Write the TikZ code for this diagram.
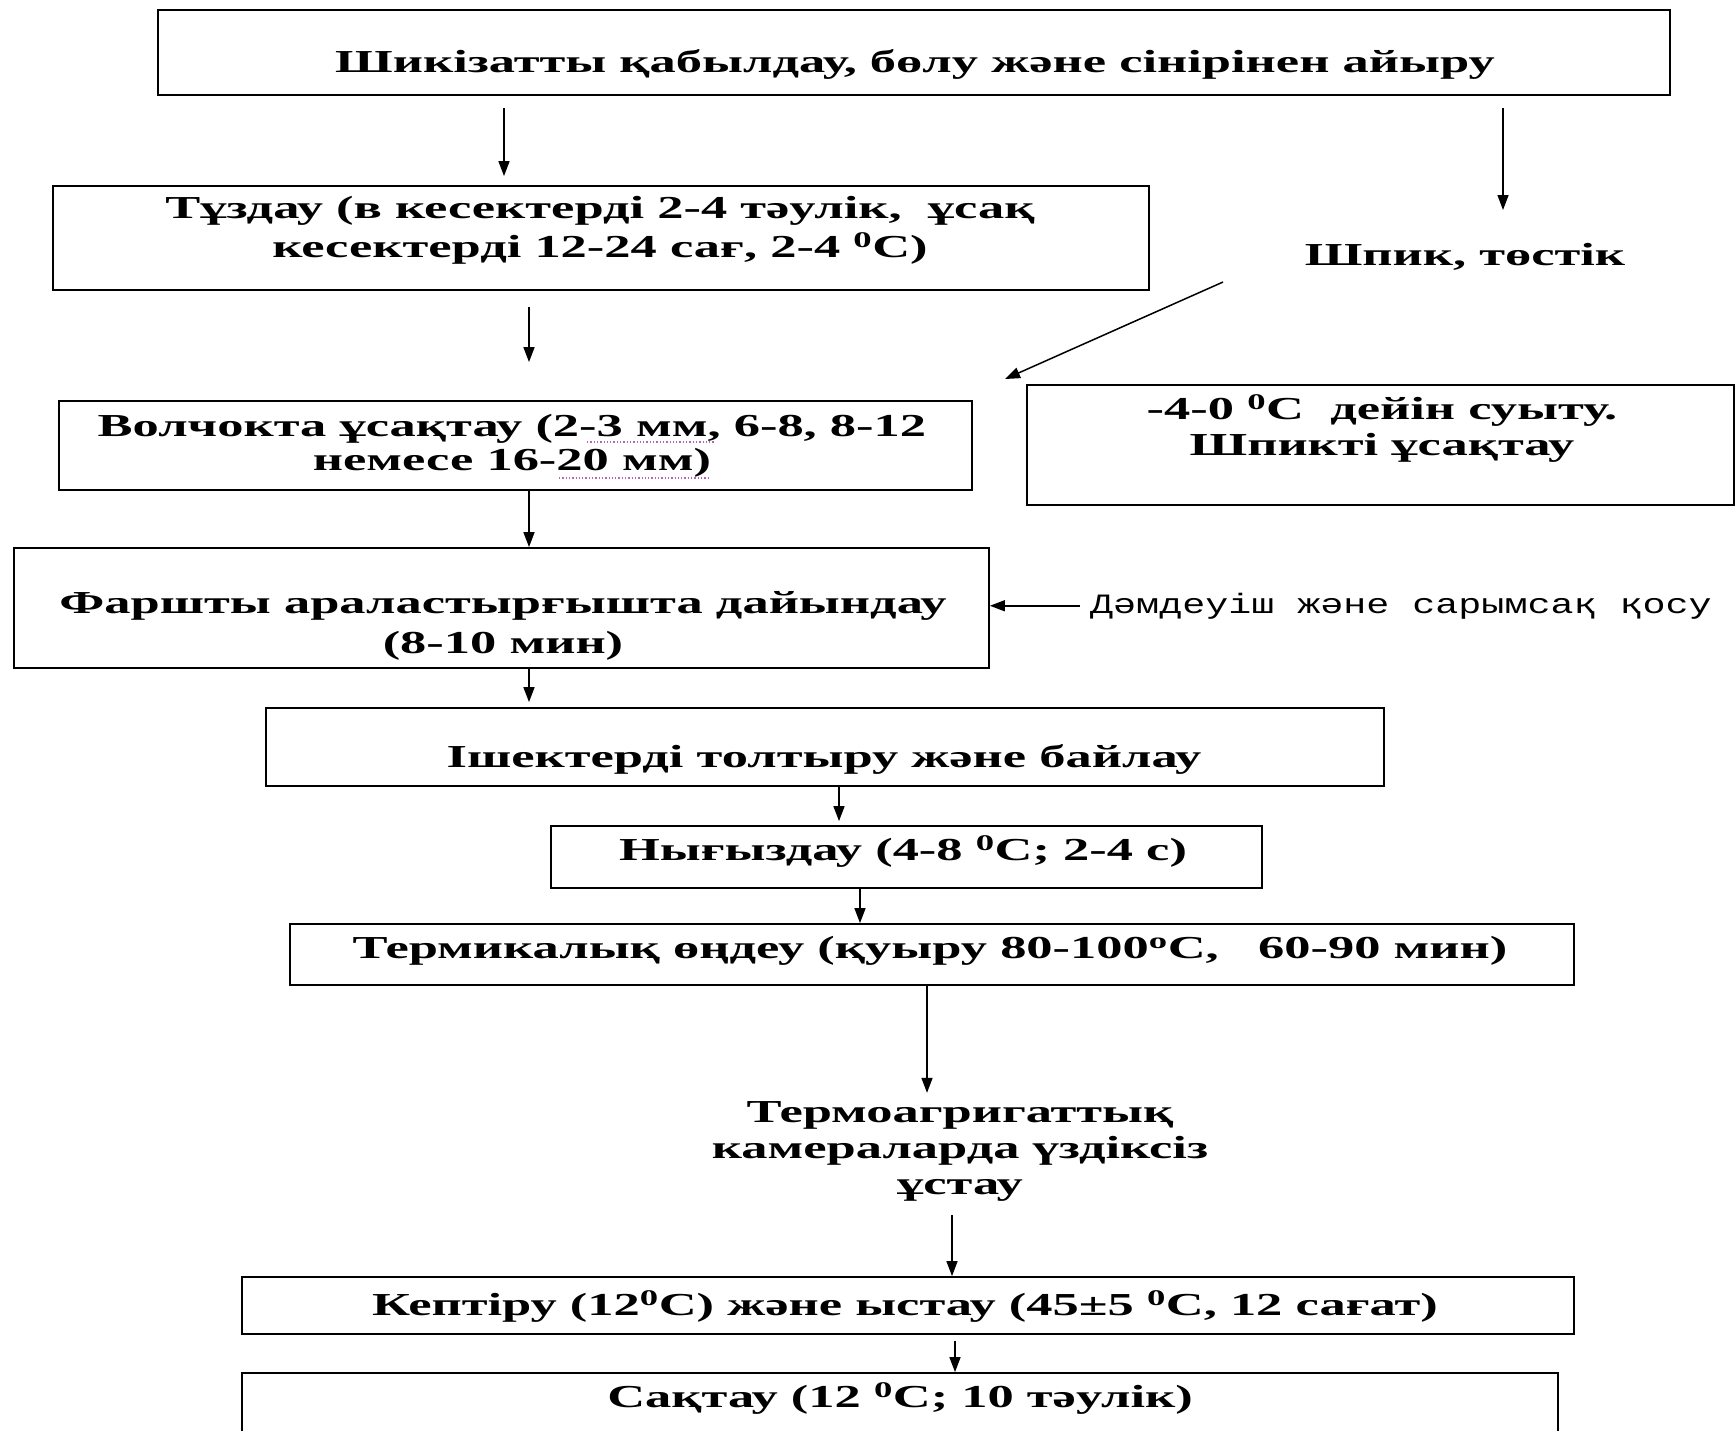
\documentclass[tikz,border=0pt]{standalone}
\usepackage{fontspec}
\setmainfont{Liberation Serif}[FakeStretch=1.64]
\newfontfamily\monofnt{Liberation Mono}[FakeStretch=1.37]
\usetikzlibrary{arrows.meta,calc}
\begin{document}
\begin{tikzpicture}[x=1pt,y=-1pt,
  box/.style={draw, line width=1.8pt, inner sep=0pt},
  txt/.style={font=\bfseries\fontsize{32}{33}\selectfont, align=center, inner sep=0pt, anchor=base},
  arr/.style={-{Triangle[length=15pt,width=11pt]}, line width=1.5pt},
  smart/.style={dotted, draw=violet!60, line width=1.3pt}]
\useasboundingbox (0,0) rectangle (1736,1430);
\clip (0,0) rectangle (1736,1430);
\fill[white] (0,0) rectangle (1736,1430);

% boxes
\node[box, minimum width=1512pt, minimum height=85pt] (b1) at (914,52.5) {};
\node[box, minimum width=1096pt, minimum height=104pt] (b2) at (601,238) {};
\node[box, minimum width=913pt, minimum height=89pt] (b3) at (515.5,445.5) {};
\node[box, minimum width=707pt, minimum height=120pt] (bR) at (1380.5,445) {};
\node[box, minimum width=975pt, minimum height=120pt] (b4) at (501.5,608) {};
\node[box, minimum width=1118pt, minimum height=78pt] (b5) at (825,747) {};
\node[box, minimum width=711pt, minimum height=62pt] (b6) at (906.5,857) {};
\node[box, minimum width=1284pt, minimum height=61pt] (b7) at (932,954.5) {};
\node[box, minimum width=1332pt, minimum height=57pt] (b8) at (908,1305.5) {};
\node[box, minimum width=1316pt, minimum height=77pt] (b9) at (900,1411.5) {};

% texts (multi-line nodes: base = baseline of the last line)
\node[txt] (t1) at (915,72) {Шикізатты қабылдау, бөлу және сінірінен айыру};
\node[txt, font=\bfseries\fontsize{32}{39}\selectfont] (t2) at (600,257) {Тұздау (в кесектерді 2-4 тәулік,\ \ ұсақ\\кесектерді 12-24 сағ, 2-4 \textsuperscript{0}C)};
\node[txt] (shpik) at (1465,265) {Шпик, төстік};
\node[txt, font=\bfseries\fontsize{32}{34}\selectfont] (t3) at (512,470) {Волчокта ұсақтау (2-3 мм, 6-8, 8-12\\немесе 16-20 мм)};
\node[txt, font=\bfseries\fontsize{32}{36}\selectfont] (tR) at (1382,455) {-4-0 \textsuperscript{0}C\ \ дейін суыту.\\Шпикті ұсақтау};
\node[txt, font=\bfseries\fontsize{32}{40}\selectfont] (t4) at (503,653) {Фаршты араластырғышта дайындау\\(8-10 мин)};
\node[inner sep=0pt, anchor=base west, font=\monofnt\fontsize{28}{30}\selectfont] (mono) at (1090,613) {Дәмдеуіш және сарымсақ қосу};
\node[txt] (t5) at (824,767) {Ішектерді толтыру және байлау};
\node[txt] (t6) at (903,860) {Нығыздау (4-8 \textsuperscript{0}C; 2-4 с)};
\node[txt] (t7) at (930,958) {Термикалық өңдеу (қуыру 80-100\textsuperscript{o}C,\ \ \ 60-90 мин)};
\node[txt, font=\bfseries\fontsize{32}{36}\selectfont] (termo) at (960,1194) {Термоагригаттық\\камераларда үздіксіз\\ұстау};
\node[txt] (t8) at (905,1315) {Кептіру (12\textsuperscript{0}C) және ыстау (45±5 \textsuperscript{0}C, 12 сағат)};
\node[txt] (t9) at (900,1407) {Сақтау (12 \textsuperscript{0}C; 10 тәулік)};

% smart-tag dotted underlines
\draw[smart] (587,442) -- (714,442);
\draw[smart] (559,478) -- (709,478);

% free-end coordinates
\coordinate (a2end) at (1503,210);
\coordinate (d1) at (1223,282);
\coordinate (d2) at (1005,379);

% connectors
\draw[arr] ($(b1.south)+(-410,12)$) -- ($(b2.north)+(-97,-9)$);
\draw[arr] ($(b1.south)+(589,12)$) -- (a2end);
\draw[arr] (d1) -- (d2);
\draw[arr] ($(b2.south)+(-72,16)$) -- ($(b3.north)+(13.5,-38)$);
\draw[arr] ($(b3.south)+(13.5,0)$) -- ($(b4.north)+(27.5,0)$);
\draw[arr, shorten <=10pt] (mono.west) -- (mono.west -| b4.east);
\draw[arr] ($(b4.south)+(27.5,0)$) -- ($(b5.north)+(-296,-5)$);
\draw[arr] ($(b5.south)+(14,0)$) -- ($(b6.north)+(-67.5,-4)$);
\draw[arr] ($(b6.south)+(-46.5,0)$) -- ($(b7.north)+(-72,0)$);
\draw[arr] ($(b7.south)+(-5,0)$) -- ($(termo.north)+(-33,-8)$);
\draw[arr] ($(termo.south)+(-8,14)$) -- ($(b8.north)+(44,0)$);
\draw[arr] ($(b8.south)+(47,6)$) -- ($(b9.north)+(55,0)$);
\end{tikzpicture}
\end{document}
